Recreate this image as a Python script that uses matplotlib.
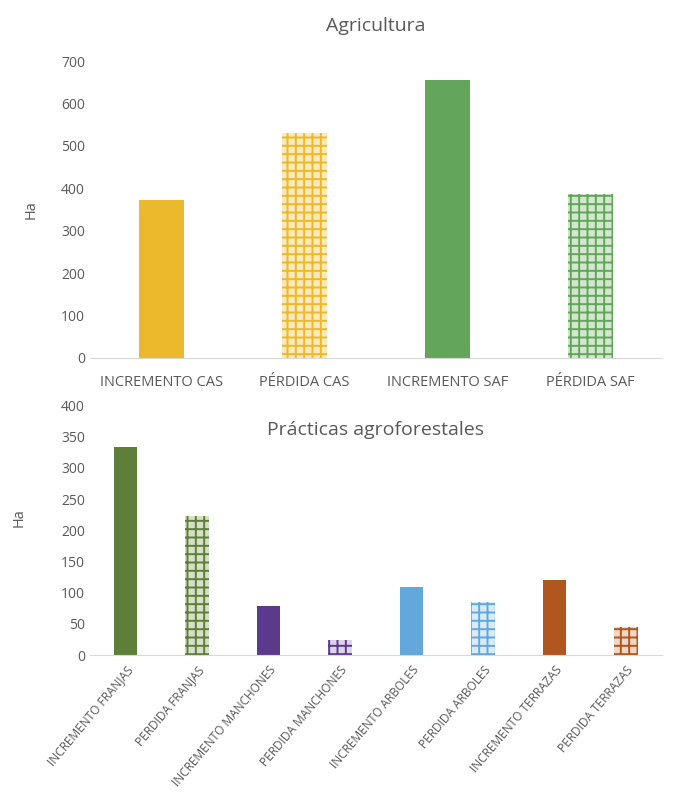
import matplotlib.pyplot as plt

plt.rcParams['font.family'] = ['Open Sans', 'DejaVu Sans']
plt.rcParams['hatch.linewidth'] = 1.4

# Agricultura
agr_labels = ['INCREMENTO CAS', 'PÉRDIDA CAS', 'INCREMENTO SAF', 'PÉRDIDA SAF']
agr_values = [372, 530, 655, 387]
agr_colors = ['#EBB92B', '#EBB92B', '#62A55B', '#62A55B']
agr_tints = ['#FAE9BA', '#FAE9BA', '#D3E7CF', '#D3E7CF']
agr_patterned = [False, True, False, True]

# Prácticas agroforestales
prac_labels = ['INCREMENTO FRANJAS', 'PERDIDA FRANJAS', 'INCREMENTO MANCHONES',
               'PERDIDA MANCHONES', 'INCREMENTO ARBOLES', 'PERDIDA ARBOLES',
               'INCREMENTO TERRAZAS', 'PERDIDA TERRAZAS']
prac_values = [334, 223, 78, 25, 109, 85, 120, 45]
prac_colors = ['#5E7F3A', '#5E7F3A', '#5B3A8C', '#5B3A8C',
               '#63A8DC', '#63A8DC', '#B0561F', '#B0561F']
prac_tints = ['#D6E0C9', '#D6E0C9', '#DDD3EA', '#DDD3EA',
              '#DAEBF8', '#DAEBF8', '#F0D6C5', '#F0D6C5']
prac_patterned = [False, True, False, True, False, True, False, True]

text_color = '#595959'


def draw_bars(ax, labels, values, colors, tints, patterned, width):
    for i, (v, c, t, p) in enumerate(zip(values, colors, tints, patterned)):
        if p:
            ax.bar(i, v, width, color=t, edgecolor=c, linewidth=0, hatch='++')
        else:
            ax.bar(i, v, width, color=c, linewidth=0)
    ax.set_xlim(-0.5, len(labels) - 0.5)
    ax.set_xticks(list(range(len(labels))))
    for s in ['top', 'right', 'left']:
        ax.spines[s].set_visible(False)
    ax.spines['bottom'].set_color('#D9D9D9')
    ax.tick_params(axis='both', length=0, colors=text_color, labelsize=10)
    ax.set_ylabel('Ha', color=text_color, fontsize=10.5)


fig = plt.figure(figsize=(6.81, 7.98), dpi=100)

ax1 = fig.add_axes([0.132, 0.5514, 0.84, 0.372])
draw_bars(ax1, agr_labels, agr_values, agr_colors, agr_tints, agr_patterned, 0.31)
ax1.set_ylim(0, 700)
ax1.set_yticks(range(0, 701, 100))
ax1.set_xticklabels(agr_labels, fontsize=10.5)
ax1.tick_params(axis='x', pad=12)
ax1.set_title('Agricultura', color=text_color, fontsize=14, pad=22)
ax1.yaxis.set_label_coords(-0.09, 0.5)

ax2 = fig.add_axes([0.132, 0.179, 0.84, 0.313])
draw_bars(ax2, prac_labels, prac_values, prac_colors, prac_tints, prac_patterned, 0.33)
ax2.set_ylim(0, 400)
ax2.set_yticks(range(0, 401, 50))
ax2.set_xticklabels(prac_labels, rotation=50, ha='right', rotation_mode='anchor', fontsize=8.6)
ax2.tick_params(axis='x', pad=6)
ax2.text(0.5, 0.9, 'Prácticas agroforestales', transform=ax2.transAxes,
         ha='center', va='center', color=text_color, fontsize=14)
ax2.yaxis.set_label_coords(-0.11, 0.55)

fig.savefig('out.png', dpi=100)
